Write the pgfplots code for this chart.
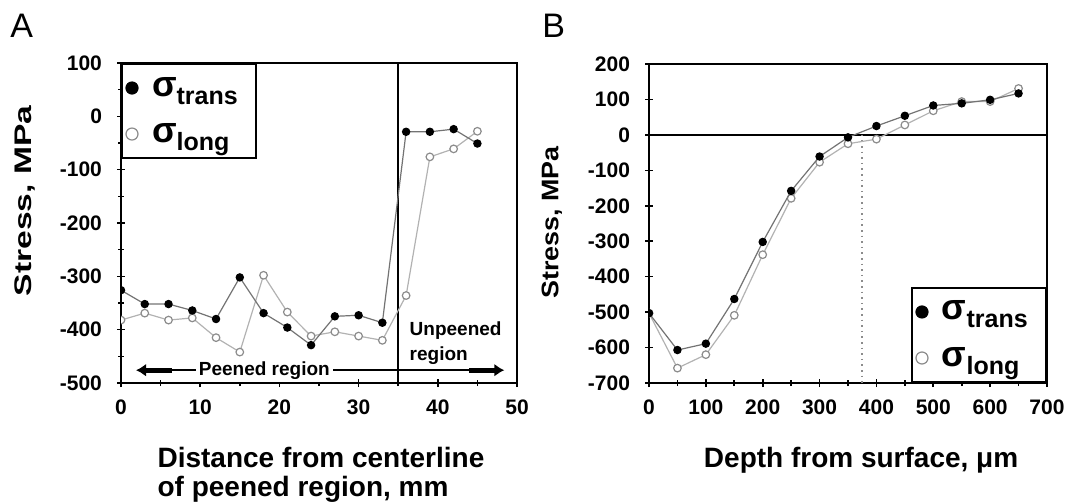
\documentclass[border=0pt]{standalone}
\usepackage{pgfplots}
\pgfplotsset{compat=1.18}
\usepackage{fontspec}
\setmainfont{Liberation Sans}
\usetikzlibrary{arrows.meta}

\pgfplotstableread{
x y
0 -326
3 -352
6 -352
9 -364
12 -380
15 -302
18 -369
21 -396
24 -429
27 -375
30 -373
33 -387
36 -29
39 -29
42 -24
45 -51
}\Atrans
\pgfplotstableread{
x y
0 -382
3 -369
6 -382
9 -378
12 -415
15 -442
18 -298
21 -367
24 -412
27 -404
30 -412
33 -420
36 -336
39 -76
42 -61
45 -28
}\Along
\pgfplotstableread{
x y
0 -503
50 -607
100 -589
150 -463
200 -302
250 -158
300 -61
350 -7
400 25
450 54
500 83
550 89
600 99
650 117
}\Btrans
\pgfplotstableread{
x y
0 -503
50 -658
100 -620
150 -509
200 -338
250 -179
300 -77
350 -25
400 -12
450 28
500 68
550 94
600 94
650 131
}\Blong

\pgfplotsset{
  panel/.style={
    scale only axis,
    anchor=south west,
    axis line style={line width=1.2pt},
    tick style={black, line width=0.8pt},
    major tick length=4pt, minor tick length=3pt,
    tick align=center,
    xtick pos=bottom, ytick pos=left,
    /pgf/number format/assume math mode=true,
    ticklabel style={font=\bfseries\fontsize{10.5}{12}\selectfont},
    xticklabel style={yshift=-3pt},
    yticklabel style={xshift=-4pt},
    clip mode=individual,
    clip marker paths=true,
    legend cell align=left,
    legend image code/.code={\draw[##1, only marks, mark size=3pt] plot coordinates {(0.15cm,0pt)};},
    legend style={draw=black, line width=1pt, inner xsep=2pt, inner ysep=5.5pt,
      row sep=10pt, nodes={inner sep=1pt}},
  },
  trans/.style={color=black!55, line width=0.6pt, mark=*, mark size=1.8pt,
    mark options={fill=black, draw=black, solid}},
  long/.style={color=black!30, line width=0.6pt, mark=*, mark size=1.9pt,
    mark options={fill=white, draw=black!45, line width=0.6pt, solid}},
}
\newcommand{\sig}[1]{\makebox[55pt][l]{\hspace*{6pt}{\bfseries\fontsize{18}{18}\selectfont σ}\raisebox{-4pt}{\bfseries\fontsize{12.5}{12.5}\selectfont #1}}}

\begin{document}
\begin{tikzpicture}
\useasboundingbox (0,0) rectangle (537pt,251.5pt);
\node[anchor=base west, inner sep=0pt, font=\fontsize{17}{17}\selectfont] at (5pt,232.5pt) {A};
\node[anchor=base west, inner sep=0pt, font=\fontsize{17}{17}\selectfont] at (271pt,232.5pt) {B};

\begin{axis}[panel,
  at={(60.5pt,60pt)}, width=198pt, height=160pt,
  xmin=0, xmax=50, ymin=-500, ymax=100,
  xtick distance=10, ytick distance=100,
  minor x tick num=1, minor y tick num=1,
  xlabel={Distance from centerline\\of peened region, mm},
  xlabel style={at={(axis description cs:0.505,-0.2)}, anchor=north, align=left,
    inner sep=0pt, font=\bfseries\fontsize{14}{14.5}\selectfont},
  ylabel={\scalebox{1.4}[1]{Stress, MPa}},
  ylabel style={at={(axis description cs:-0.242,0.569)}, anchor=center, rotate=0,
    inner sep=0pt, font=\bfseries\fontsize{12}{12}\selectfont},
  legend style={at={(0,1)}, anchor=north west},
]
\draw[black, line width=0.8pt] (axis cs:35,-500) -- (axis cs:35,100);
\draw[line width=0.8pt] (axis cs:6,-476) -- (axis cs:44,-476);
\draw[line width=2.5pt, {Latex[length=5pt,width=6.5pt]}-] (axis cs:1.9,-476) -- (axis cs:6.5,-476);
\draw[line width=2.5pt, -{Latex[length=5pt,width=6.5pt]}] (axis cs:44,-476) -- (axis cs:48.4,-476);
\node[fill=white, inner sep=1.5pt, font=\bfseries\fontsize{9.5}{11}\selectfont] at (axis cs:18.1,-476) {Peened region};
\node[anchor=north west, align=left, inner sep=0pt, font=\bfseries\fontsize{9.5}{12.5}\selectfont] at (axis cs:36.4,-384) {Unpeened\\region};
\addplot[long, forget plot] table[x=x,y=y] {\Along};
\addplot[trans, forget plot] table[x=x,y=y] {\Atrans};
\addlegendimage{trans}
\addlegendentry{\sig{trans}}
\addlegendimage{long}
\addlegendentry{\sig{long}}
\end{axis}

\begin{axis}[panel,
  at={(324.5pt,60pt)}, width=199pt, height=159.5pt,
  xmin=0, xmax=700, ymin=-700, ymax=200,
  xtick distance=100, ytick distance=100,
  minor x tick num=1,
  xlabel={Depth from surface, μm},
  xlabel style={at={(axis description cs:0.533,-0.2)}, anchor=north,
    inner sep=0pt, font=\bfseries\fontsize{14}{14.5}\selectfont},
  ylabel={\scalebox{1.12}[1]{Stress, MPa}},
  ylabel style={at={(axis description cs:-0.244,0.503)}, anchor=center, rotate=0,
    inner sep=0pt, font=\bfseries\fontsize{12}{12}\selectfont},
  legend style={at={(1,0)}, anchor=south east},
]
\draw[black, line width=0.8pt] (axis cs:0,0) -- (axis cs:700,0);
\draw[black!45, dotted, line width=0.8pt] (axis cs:375,0) -- (axis cs:375,-700);
\addplot[long, forget plot] table[x=x,y=y] {\Blong};
\addplot[trans, forget plot] table[x=x,y=y] {\Btrans};
\addlegendimage{trans}
\addlegendentry{\sig{trans}}
\addlegendimage{long}
\addlegendentry{\sig{long}}
\end{axis}
\end{tikzpicture}
\end{document}
